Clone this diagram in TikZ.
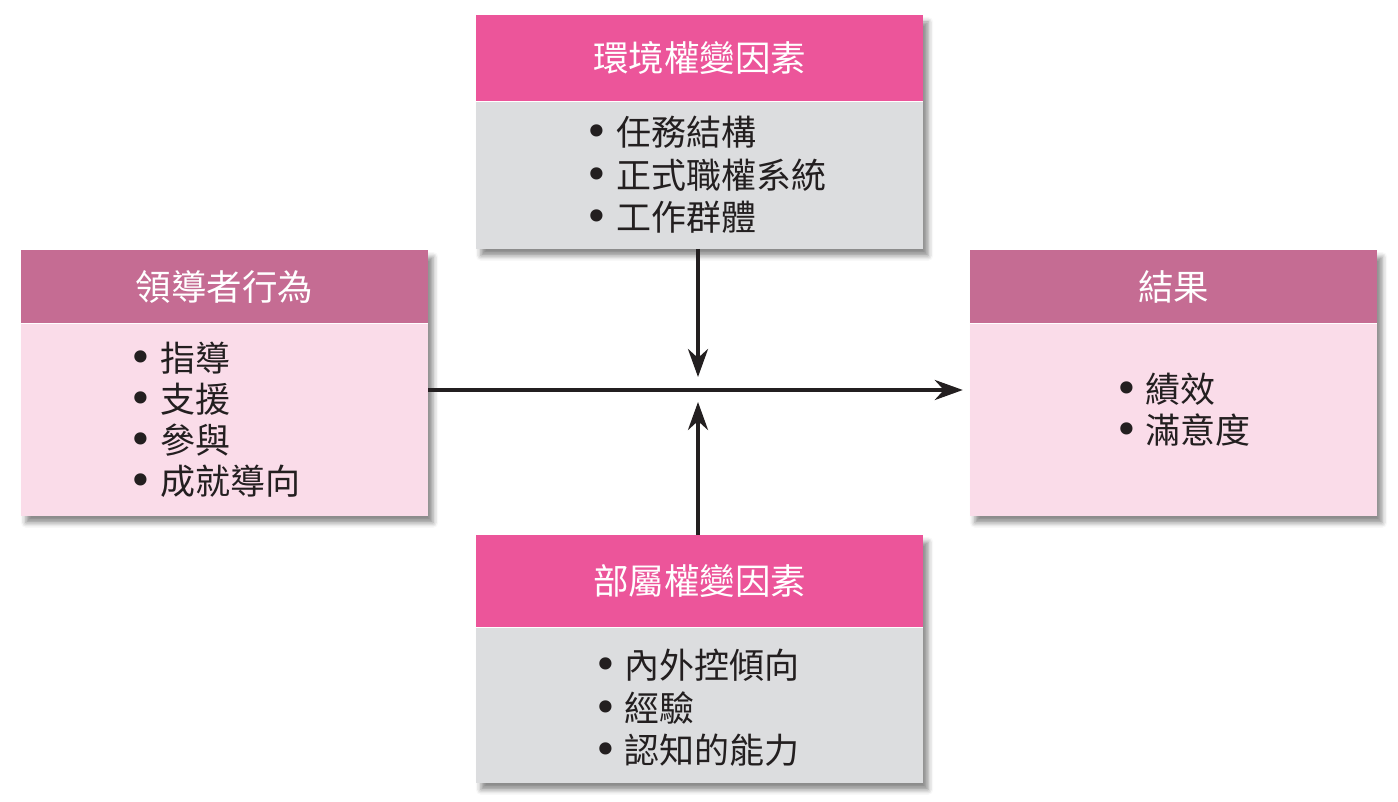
\documentclass[tikz,border=0pt]{standalone}
\usepackage{fontspec}
\newfontfamily\cjk{Noto Sans CJK TC}
\newfontfamily\bulletfont{DejaVu Sans}
\usetikzlibrary{arrows.meta,shadows.blur,fit,backgrounds,calc}
\definecolor{hotpink}{RGB}{236,85,154}
\definecolor{mauve}{RGB}{197,108,147}
\definecolor{greybody}{RGB}{220,221,223}
\definecolor{pinkbody}{RGB}{250,220,233}
\definecolor{ink}{RGB}{35,31,32}
\newcommand{\itm}{{\bulletfont\fontsize{42}{0}\selectfont\raisebox{-1pt}{•}}\hspace{0.2em}}

\begin{document}
\begin{tikzpicture}[
        x = 1pt, y = 1pt,
        line join=round,
        font = \cjk\fontsize{35.5}{42}\selectfont,
        mytitle/.style = {fill=hotpink, text=white, minimum width=447pt, inner sep=0pt, anchor=north},
        mytitle2/.style = {mytitle, fill=mauve, minimum width=407pt},
        mybody/.style = {fill=greybody, minimum width=447pt, inner sep=0pt, anchor=north},
        mybody2/.style = {mybody, fill=pinkbody, minimum width=407pt},
        mylist/.style = {align=left, text=ink, inner sep=0pt, font=\cjk\fontsize{35}{42.5}\selectfont},
        mylist2/.style = {mylist, font=\cjk\fontsize{35}{41}\selectfont},
        myshadow/.style = {inner sep=0pt, fill=white, blur shadow={shadow xshift=5pt, shadow yshift=-7pt, shadow blur radius=5pt, shadow opacity=45}},
        myarrow/.style = {line width=4pt, ink, -{Stealth[length=28pt, width=20pt, inset=9pt]}}
    ]
        \useasboundingbox (0,0) rectangle (1398,-802);
        \coordinate (hub) at (698,-390);

        \node[mytitle, minimum height=86pt] (envh) at (699.5,-15) {環境權變因素};
        \node[mybody, minimum height=147pt] (envb) at (envh.south) {};
        \node[mylist] (envl) at ([xshift=6pt]envb.center) {\itm 任務結構\\ \itm 正式職權系統\\ \itm 工作群體};

        \node[mytitle2, minimum height=73pt] (ldrh) at (224.5,-250) {領導者行為};
        \node[mybody2, minimum height=192pt] (ldrb) at (ldrh.south) {};
        \node[mylist2] (ldrl) at ([xshift=-10pt]ldrb.center) {\itm 指導\\ \itm 支援\\ \itm 參與\\ \itm 成就導向};

        \node[mytitle2, minimum height=73pt] (resh) at (1173.5,-250) {結果};
        \node[mybody2, minimum height=192pt] (resb) at (resh.south) {};
        \node[mylist2] (resl) at ([xshift=9pt, yshift=10pt]resb.center) {\itm 績效\\ \itm 滿意度};

        \node[mytitle, minimum height=92pt] (subh) at (699.5,-535) {部屬權變因素};
        \node[mybody, minimum height=155pt] (subb) at (subh.south) {};
        \node[mylist] (subl) at ([xshift=-3pt, yshift=-3pt]subb.center) {\itm 內外控傾向\\ \itm 經驗\\ \itm 認知的能力};

        \begin{scope}[on background layer]
            \node[myshadow, fit=(envh)(envb)] (envs) {};
            \node[myshadow, fit=(ldrh)(ldrb)] (ldrs) {};
            \node[myshadow, fit=(resh)(resb)] (ress) {};
            \node[myshadow, fit=(subh)(subb)] (subs) {};
        \end{scope}

        \draw[myarrow] (ldrb.east |- hub) -- ($(resb.west |- hub)+(-7,0)$);
        \draw[myarrow] (envb.south -| hub) -- ($(hub)+(0,13)$);
        \draw[myarrow] (subh.north -| hub) -- ($(hub)+(0,-12)$);

    \end{tikzpicture}
\end{document}
